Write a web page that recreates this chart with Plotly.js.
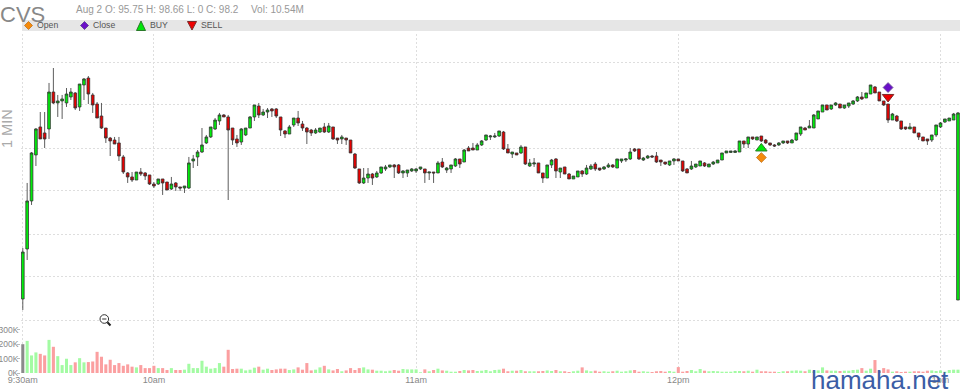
<!DOCTYPE html>
<html><head><meta charset="utf-8">
<script src="https://cdn.plot.ly/plotly-3.0.1.min.js"></script>
<style>html,body{margin:0;padding:0;background:#fff;overflow:hidden}#c{width:960px;height:391px}</style>
</head><body><div id="c"></div>
<script>
// Prices, one per minute from 9:30am
const openPrices = [95.783,96.408,97.008,97.583,97.933,97.858,97.908,98.37,98.233,98.258,
98.233,98.308,98.358,98.183,98.458,98.545,98.333,98.22,98.07,97.92,
97.795,97.77,97.733,97.558,97.358,97.308,97.27,97.37,97.358,97.333,
97.22,97.22,97.283,97.245,97.158,97.233,97.183,97.17,97.17,97.508,
97.558,97.62,97.733,97.808,97.908,98.008,98.083,98.058,97.92,97.783,
97.745,97.833,97.92,98.058,98.195,98.083,98.12,98.158,98.158,98.058,
97.883,97.845,97.958,98.045,97.97,97.92,97.895,97.858,97.87,97.933,
97.87,97.933,97.795,97.783,97.795,97.77,97.595,97.408,97.233,97.295,
97.345,97.308,97.358,97.408,97.433,97.458,97.458,97.358,97.358,97.383,
97.383,97.408,97.408,97.358,97.37,97.358,97.495,97.395,97.408,97.445,
97.533,97.495,97.67,97.67,97.645,97.708,97.77,97.808,97.808,97.82,
97.87,97.658,97.595,97.608,97.608,97.683,97.445,97.47,97.483,97.358,
97.295,97.458,97.533,97.37,97.433,97.345,97.283,97.308,97.383,97.345,
97.408,97.47,97.42,97.408,97.433,97.458,97.42,97.508,97.52,97.533,
97.658,97.658,97.52,97.545,97.57,97.57,97.52,97.495,97.458,97.508,
97.533,97.508,97.408,97.408,97.433,97.445,97.483,97.433,97.47,97.483,
97.52,97.608,97.614,97.614,97.62,97.758,97.72,97.808,97.77,97.82,
97.77,97.733,97.708,97.708,97.733,97.758,97.733,97.77,97.845,97.92,
97.92,97.92,98.033,98.12,98.208,98.158,98.208,98.22,98.17,98.195,
98.22,98.258,98.308,98.295,98.345,98.433,98.37,98.258,98.22,98.02,
98.07,98.008,97.933,97.908,97.933,97.858,97.808,97.783,97.77,97.833,
97.933,97.995,98.008,98.02,95.77];
const highPrices = [96.42,97.233,97.62,97.92,98.12,98.12,98.483,98.67,98.333,98.333,
98.42,98.42,98.37,98.47,98.545,98.57,98.358,98.245,98.233,97.92,
97.808,97.808,97.808,97.583,97.37,97.37,97.37,97.42,97.37,97.333,
97.245,97.283,97.283,97.245,97.308,97.245,97.183,97.195,97.558,97.583,
97.645,97.92,97.833,97.933,98.045,98.108,98.095,98.083,97.92,97.833,
97.92,97.92,98.07,98.208,98.233,98.158,98.17,98.17,98.17,98.058,
97.895,97.958,98.045,98.133,98.008,97.933,97.908,97.92,97.92,97.983,
97.983,97.933,97.795,97.833,97.795,97.77,97.608,97.408,97.42,97.42,
97.358,97.383,97.433,97.458,97.458,97.47,97.47,97.395,97.395,97.42,
97.42,97.433,97.408,97.37,97.37,97.508,97.545,97.433,97.458,97.545,
97.533,97.658,97.695,97.733,97.733,97.77,97.833,97.833,97.858,97.883,
97.883,97.72,97.62,97.608,97.708,97.683,97.533,97.545,97.483,97.358,
97.458,97.533,97.545,97.42,97.433,97.358,97.32,97.383,97.395,97.458,
97.47,97.495,97.42,97.445,97.483,97.47,97.533,97.533,97.545,97.67,
97.67,97.658,97.558,97.583,97.583,97.62,97.52,97.495,97.508,97.545,
97.533,97.508,97.42,97.508,97.47,97.508,97.495,97.47,97.508,97.52,
97.608,97.633,97.633,97.645,97.758,97.758,97.808,97.808,97.808,97.82,
97.783,97.733,97.72,97.745,97.758,97.758,97.783,97.858,97.933,97.933,
98.02,98.095,98.133,98.208,98.208,98.208,98.245,98.22,98.208,98.233,
98.27,98.32,98.37,98.358,98.458,98.445,98.37,98.258,98.22,98.108,
98.083,98.008,97.933,97.983,97.933,97.858,97.808,97.783,97.833,97.958,
97.995,98.033,98.045,98.108,98.12];
const lowPrices = [95.645,96.27,96.958,97.445,97.783,97.67,97.783,98.22,98.058,98.033,
98.183,98.27,98.145,98.133,98.27,98.22,98.108,98.045,97.908,97.733,
97.57,97.72,97.508,97.345,97.233,97.245,97.27,97.32,97.27,97.208,
97.17,97.208,97.083,97.145,97.145,97.133,97.133,97.108,97.158,97.42,
97.445,97.608,97.72,97.795,97.895,97.958,98.058,97.02,97.708,97.683,
97.708,97.82,97.92,98.008,98.045,98.07,98.045,98.058,98.045,97.82,
97.795,97.845,97.933,97.945,97.883,97.72,97.82,97.845,97.858,97.858,
97.858,97.77,97.72,97.72,97.708,97.608,97.408,97.22,97.22,97.233,
97.208,97.295,97.345,97.383,97.42,97.295,97.345,97.295,97.308,97.37,
97.358,97.395,97.233,97.27,97.233,97.358,97.42,97.358,97.358,97.433,
97.42,97.495,97.633,97.645,97.645,97.695,97.758,97.77,97.795,97.808,
97.645,97.608,97.545,97.583,97.595,97.458,97.433,97.433,97.358,97.233,
97.295,97.42,97.295,97.295,97.345,97.283,97.283,97.308,97.308,97.333,
97.395,97.383,97.383,97.395,97.42,97.42,97.42,97.483,97.495,97.52,
97.62,97.52,97.508,97.533,97.545,97.483,97.445,97.458,97.445,97.458,
97.508,97.37,97.358,97.395,97.42,97.445,97.433,97.433,97.458,97.483,
97.52,97.608,97.608,97.608,97.62,97.67,97.67,97.77,97.77,97.745,
97.72,97.695,97.683,97.695,97.72,97.72,97.733,97.758,97.82,97.895,
97.92,97.92,98.033,98.12,98.145,98.145,98.195,98.17,98.158,98.17,
98.208,98.245,98.27,98.295,98.345,98.358,98.258,98.195,97.983,98.02,
97.995,97.895,97.895,97.908,97.858,97.77,97.758,97.708,97.745,97.808,
97.92,97.983,98.008,98.02,95.77];
const closePrices = [96.37,97.008,97.608,97.908,97.783,97.783,98.37,98.233,98.258,98.283,
98.345,98.37,98.17,98.47,98.533,98.345,98.208,98.045,97.92,97.795,
97.758,97.72,97.57,97.37,97.308,97.27,97.37,97.345,97.32,97.22,
97.195,97.283,97.233,97.145,97.22,97.183,97.17,97.195,97.483,97.533,
97.62,97.708,97.808,97.933,98.02,98.083,98.058,97.895,97.77,97.733,
97.908,97.92,98.058,98.208,98.083,98.12,98.145,98.133,98.07,97.895,
97.845,97.933,98.045,97.983,97.92,97.87,97.858,97.895,97.92,97.87,
97.945,97.783,97.77,97.808,97.77,97.608,97.42,97.233,97.295,97.345,
97.295,97.358,97.433,97.433,97.458,97.433,97.358,97.383,97.395,97.408,
97.408,97.433,97.358,97.37,97.358,97.483,97.433,97.42,97.458,97.533,
97.47,97.645,97.633,97.645,97.708,97.758,97.833,97.82,97.82,97.883,
97.658,97.608,97.62,97.583,97.683,97.47,97.483,97.483,97.358,97.295,
97.458,97.52,97.383,97.42,97.345,97.283,97.32,97.383,97.345,97.42,
97.445,97.408,97.395,97.433,97.458,97.433,97.533,97.533,97.533,97.62,
97.633,97.533,97.545,97.57,97.558,97.495,97.495,97.47,97.508,97.533,
97.508,97.383,97.358,97.445,97.47,97.508,97.445,97.47,97.495,97.52,
97.608,97.633,97.633,97.633,97.758,97.72,97.808,97.783,97.808,97.758,
97.733,97.708,97.695,97.733,97.758,97.733,97.77,97.858,97.933,97.895,
97.945,98.083,98.133,98.208,98.145,98.208,98.233,98.17,98.208,98.233,
98.258,98.308,98.283,98.358,98.458,98.358,98.258,98.208,98.02,98.095,
98.008,97.908,97.908,97.933,97.858,97.808,97.758,97.758,97.833,97.958,
97.983,98.033,98.045,98.095,98.108];
// Volume per minute, thousands of shares
const volumeK = [200,223,122,143,133,122,230,182,117,55,
99,55,74,103,74,76,80,147,113,60,
92,55,69,50,60,44,39,55,34,34,
50,34,34,21,34,21,21,23,64,34,
34,85,44,30,34,69,44,161,28,30,
30,18,23,37,44,23,30,21,25,30,
30,21,25,39,23,69,18,23,39,50,
25,18,28,12,18,34,21,34,39,25,
23,16,16,12,16,21,16,28,25,25,
25,5,25,12,21,30,18,16,9,9,
14,21,18,21,14,16,21,12,21,23,
30,12,16,16,21,12,12,12,12,14,
18,14,21,12,12,7,12,16,39,18,
12,16,9,12,9,12,16,9,12,18,
21,9,12,9,7,12,14,9,14,9,
41,9,14,21,12,28,16,12,14,12,
9,9,9,14,14,12,16,9,23,12,
12,9,9,7,12,12,16,18,16,12,
23,12,18,39,18,16,16,14,16,16,
21,23,34,16,30,90,16,34,25,9,
12,7,9,9,12,12,9,16,18,14,
18,9,21,23,23];

const minutes = openPrices.map((_, i) => i);
const timeTicks = [0, 30, 90, 150, 210];
const timeLabels = ['9:30am', '10am', '11am', '12pm', '1pm'];
const volumeTicks = [0, 100, 200, 300];
const volumeLabels = ['0K', '100K', '200K', '300K'];
const priceGrid = [95.52, 96.058, 96.595, 97.133, 97.67, 98.208, 98.745];

const buyMinute = [169],  buyPrice = [97.664];
const openMinute = [169], openMarkPrice = [97.551];
const sellMinute = [198], sellPrice = [98.308];
const closeMinute = [198], closeMarkPrice = [98.426];

const W = 960, H = 391;
const X = p => p / W, Y = p => 1 - p / H;
const FONT = '"Liberation Sans", Arial, sans-serif';

const volColors = minutes.map(i => i === 0 ? '#8a8a8a' :
  (closePrices[i] >= openPrices[i] ? '#a3fba3' : '#fb9fa0'));

const traces = [
  {type:'bar', x:minutes, y:volumeK, yaxis:'y', marker:{color:volColors, line:{width:0}}, width:0.7, hoverinfo:'skip'},
  {type:'candlestick', x:minutes, open:openPrices, high:highPrices, low:lowPrices, close:closePrices, yaxis:'y2',
   increasing:{fillcolor:'#00ee0a', line:{color:'#333', width:0.8}},
   decreasing:{fillcolor:'#e80000', line:{color:'#333', width:0.8}}, hoverinfo:'skip'},
  {type:'scatter', mode:'markers', x:buyMinute, y:buyPrice, yaxis:'y2', marker:{symbol:'triangle-up', size:10, color:'#00e60a', line:{color:'#2a7a2a', width:1}}, hoverinfo:'skip'},
  {type:'scatter', mode:'markers', x:openMinute, y:openMarkPrice, yaxis:'y2', marker:{symbol:'diamond', size:7.5, color:'#f58a0b', line:{color:'#c9802e', width:1}}, hoverinfo:'skip'},
  {type:'scatter', mode:'markers', x:sellMinute, y:sellPrice, yaxis:'y2', marker:{symbol:'triangle-down', size:10, color:'#ee0000', line:{color:'#7a2a2a', width:1}}, hoverinfo:'skip'},
  {type:'scatter', mode:'markers', x:closeMinute, y:closeMarkPrice, yaxis:'y2', marker:{symbol:'diamond', size:7.5, color:'#6a10c8', line:{color:'#6a4a9a', width:1}}, hoverinfo:'skip'}
];

const note = (text, x, y, size, color, extra) => Object.assign({
  text, x:X(x), y:Y(y), xref:'paper', yref:'paper', xanchor:'left', yanchor:'middle',
  showarrow:false, font:{family:FONT, size, color}, borderpad:0, borderwidth:0
}, extra || {});

const path = pts => 'M' + pts.map(p => X(p[0]) + ',' + Y(p[1])).join('L') + 'Z';
const keyShape = (pts, fill, line) => ({type:'path', xref:'paper', yref:'paper', path:path(pts), fillcolor:fill, line:{color:line, width:1}});

const layout = {
  width:W, height:H, margin:{l:0,r:0,t:0,b:0}, paper_bgcolor:'#fff', plot_bgcolor:'#fff',
  showlegend:false, dragmode:false, hovermode:false, boxgap:0.12,
  font:{family:FONT, color:'#888'},
  xaxis:{domain:[21/W,1], range:[-0.412,214.46], rangeslider:{visible:false}, tickmode:'array', tickvals:timeTicks, ticktext:timeLabels,
    showgrid:true, gridcolor:'#dedede', griddash:'2px,2px', gridwidth:1, ticks:'', tickfont:{size:9,color:'#888'}, showline:false, zeroline:false},
  yaxis:{domain:[18/H,357/H], range:[0,2354], tickmode:'array', tickvals:volumeTicks, ticktext:volumeLabels, showgrid:false, zeroline:false,
    ticks:'outside', ticklen:3, tickcolor:'#bbb', tickfont:{size:8.5,color:'#888'}, ticklabelstandoff:-3, ticklabeloverflow:'allow', showline:false},
  yaxis2:{domain:[18/H,357/H], overlaying:'y', range:[94.8575,99.095], tickmode:'array', tickvals:priceGrid, showticklabels:false,
    showgrid:true, gridcolor:'#dedede', griddash:'2px,2px', gridwidth:1, zeroline:false, ticks:''},
  shapes:[
    {type:'rect', xref:'paper', yref:'paper', x0:X(22), x1:X(960), y0:Y(31), y1:Y(20), fillcolor:'#e6e6e6', line:{width:0}, layer:'below'},
    keyShape([[28.5,21.5],[32.5,25.5],[28.5,29.5],[24.5,25.5]], '#f58a0b', '#c9802e'),
    keyShape([[84.5,21.5],[88.5,25.5],[84.5,29.5],[80.5,25.5]], '#6a10c8', '#6a4a9a'),
    keyShape([[141,21],[145.5,30.5],[136.5,30.5]], '#00e60a', '#2a7a2a'),
    keyShape([[187.5,21.5],[196.5,21.5],[192,30]], '#ee0000', '#7a2a2a'),
    {type:'circle', xref:'paper', yref:'paper', x0:X(100), x1:X(108.6), y0:Y(323.3), y1:Y(314.7), fillcolor:'#fff', line:{color:'#333', width:1}},
    {type:'line', xref:'paper', yref:'paper', x0:X(102.2), x1:X(106.4), y0:Y(319), y1:Y(319), line:{color:'#333', width:1}},
    {type:'line', xref:'paper', yref:'paper', x0:X(107.4), x1:X(110.5), y0:Y(322.2), y1:Y(325.5), line:{color:'#222', width:2}}
  ],
  annotations:[
    note('CVS', 0, 14.5, 22, '#888'),
    note('Aug 2 O: 95.75 H: 98.66 L: 0 C: 98.2', 76, 10, 10, '#999'),
    note('Vol: 10.54M', 251, 10, 10, '#999'),
    note('Open', 37, 25.5, 8.7, '#555'),
    note('Close', 93, 25.5, 8.7, '#555'),
    note('BUY', 150, 25.5, 8.7, '#555'),
    note('SELL', 201, 25.5, 8.7, '#555'),
    note('1 MIN', 7, 129, 14.5, '#aaa', {textangle:-90, xanchor:'center'}),
    note('hamaha.net', 811, 380, 26, '#3b5ea6')
  ]
};
Plotly.newPlot('c', traces, layout, {displayModeBar:false, staticPlot:true});
</script></body></html>
